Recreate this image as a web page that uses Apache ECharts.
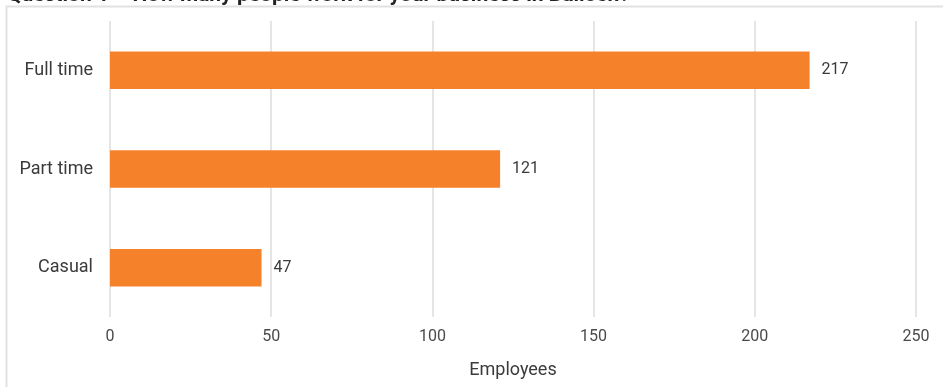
<!DOCTYPE html>
<html>
<head>
<meta charset="utf-8">
<script src="https://cdn.jsdelivr.net/npm/echarts@6/dist/echarts.min.js"></script>
<style>
  html, body { margin: 0; padding: 0; background: #ffffff; }
  #chart { width: 943px; height: 387px; }
</style>
</head>
<body>
<div id="chart"></div>
<script>
// Employment type breakdown
const categories = ['Full time', 'Part time', 'Casual'];
const employees = [217, 121, 47];
const xTicks = { min: 0, max: 250, interval: 50 };
const titleText = 'Question 1 \u2013 How many people work for your business in Balloch?';
const axisTitle = 'Employees';

const chart = echarts.init(document.getElementById('chart'), null, { renderer: 'canvas' });

chart.setOption({
  animation: false,
  backgroundColor: '#ffffff',
  title: {
    text: titleText,
    left: 2,
    top: -20,
    textStyle: { fontFamily: 'Roboto', fontWeight: 'bold', fontSize: 21, color: '#222222' }
  },
  graphic: [{
    type: 'rect',
    shape: { x: 6.5, y: 6.5, width: 1000, height: 500 },
    style: { fill: 'none', stroke: '#e2e2e2', lineWidth: 2 },
    z: -1
  }],
  grid: { left: 110, right: 27, top: 21, height: 296, containLabel: false },
  xAxis: {
    type: 'value',
    min: xTicks.min,
    max: xTicks.max,
    interval: xTicks.interval,
    name: axisTitle,
    nameLocation: 'middle',
    nameGap: 44,
    nameTextStyle: { fontFamily: 'Roboto', fontSize: 18, color: '#3a3a3a' },
    axisLine: { show: false },
    axisTick: { show: false },
    axisLabel: { margin: 12, fontFamily: 'Roboto', fontSize: 16, color: '#4a4a4a' },
    splitLine: { show: true, lineStyle: { color: '#dcdcdc', width: 1.5 } }
  },
  yAxis: {
    type: 'category',
    data: categories,
    inverse: true,
    axisLine: { show: false },
    axisTick: { show: false },
    axisLabel: { margin: 17, fontFamily: 'Roboto', fontSize: 18, color: '#3a3a3a' },
    splitLine: { show: false }
  },
  series: [{
    type: 'bar',
    data: employees,
    barWidth: '38%',
    itemStyle: { color: '#f5812a' },
    label: {
      show: true,
      position: 'right',
      distance: 12,
      fontFamily: 'Roboto',
      fontSize: 16,
      color: '#3a3a3a'
    }
  }]
});
</script>
</body>
</html>
